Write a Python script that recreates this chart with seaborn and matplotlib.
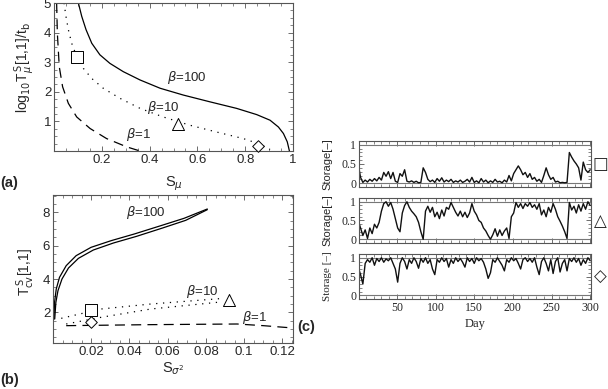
"""Storage sensitivity figure: T^S vs S for three beta values, plus storage traces."""

import matplotlib
matplotlib.use("Agg")
import matplotlib.pyplot as plt
import seaborn as sns
from matplotlib.ticker import AutoMinorLocator, MultipleLocator

# ---- panel (a): log10 T^S_mu vs S_mu ----
A_B100_X = [0.102, 0.116, 0.134, 0.158, 0.192, 0.234, 0.290, 0.360, 0.444, 0.541,
            0.653, 0.764, 0.848, 0.904, 0.939, 0.960, 0.976, 0.985]
A_B100_Y = [5.00, 4.55, 4.10, 3.64, 3.25, 2.96, 2.68, 2.40, 2.12, 1.89,
            1.66, 1.44, 1.23, 1.04, 0.81, 0.59, 0.31, 0.00]
A_B10_X = [0.042, 0.050, 0.060, 0.074, 0.095, 0.123, 0.158, 0.206, 0.276, 0.360,
           0.457, 0.569, 0.681, 0.792, 0.862, 0.904]
A_B10_Y = [5.00, 4.55, 4.10, 3.64, 3.19, 2.79, 2.45, 2.12, 1.78, 1.44,
           1.15, 0.87, 0.64, 0.42, 0.23, 0.05]
A_B1_X = [0.011, 0.014, 0.022, 0.036, 0.060, 0.095, 0.151, 0.220, 0.304, 0.360]
A_B1_Y = [5.00, 3.98, 2.85, 2.17, 1.61, 1.15, 0.76, 0.42, 0.14, 0.00]
A_MARK_X = [0.098, 0.520, 0.855]
A_MARK_Y = [3.16, 0.90, 0.17]

# ---- panel (b): T^S_cv vs S_sigma2 ----
B_B100_UP_X = [0.0005, 0.0008, 0.0017, 0.0034, 0.0069, 0.0121, 0.0199, 0.0304,
               0.0425, 0.0564, 0.0685, 0.0807]
B_B100_UP_Y = [1.60, 2.60, 3.40, 4.10, 4.80, 5.40, 5.90, 6.30, 6.70, 7.20, 7.64, 8.20]
B_B100_LO_X = [0.0009, 0.0015, 0.0026, 0.0047, 0.0081, 0.0133, 0.0211, 0.0316,
               0.0437, 0.0573, 0.0694, 0.0807]
B_B100_LO_Y = [1.60, 2.60, 3.30, 4.00, 4.66, 5.24, 5.74, 6.16, 6.56, 7.06, 7.52, 8.16]
B_B10_UP_X = [0.0043, 0.0251, 0.0512, 0.0894]
B_B10_UP_Y = [1.64, 2.20, 2.50, 2.84]
B_B10_LO_X = [0.0069, 0.0251, 0.0512, 0.0859]
B_B10_LO_Y = [1.30, 1.70, 2.20, 2.60]
B_B1_X = [0.0069, 0.0500, 0.0963, 0.1100, 0.1255]
B_B1_Y = [1.20, 1.26, 1.30, 1.20, 1.06]
B_MARK_X = [0.0199, 0.0920, 0.0199]
B_MARK_Y = [2.16, 2.76, 1.40]

# ---- panel (c): storage traces, sampled every 3 days ----
DAYS = list(range(0, 301, 3))
STORE_SQUARE = [
    0.50, 0.15, 0.02, 0.08, 0.03, 0.10, 0.05, 0.12, 0.06, 0.15,
    0.08, 0.28, 0.18, 0.30, 0.12, 0.28, 0.05, 0.02, 0.25, 0.18,
    0.35, 0.05, 0.03, 0.06, 0.02, 0.05, 0.01, 0.02, 0.40, 0.28,
    0.10, 0.04, 0.08, 0.02, 0.12, 0.05, 0.14, 0.03, 0.08, 0.04,
    0.10, 0.02, 0.06, 0.03, 0.08, 0.02, 0.05, 0.10, 0.03, 0.15,
    0.02, 0.06, 0.01, 0.12, 0.03, 0.08, 0.01, 0.06, 0.02, 0.10,
    0.03, 0.05, 0.01, 0.08, 0.03, 0.20, 0.06, 0.25, 0.35, 0.45,
    0.35, 0.22, 0.28, 0.15, 0.25, 0.10, 0.15, 0.05, 0.10, 0.02,
    0.20, 0.40, 0.22, 0.10, 0.15, 0.03, 0.05, 0.01, 0.02, 0.01,
    0.02, 0.80, 0.68, 0.58, 0.50, 0.40, 0.08, 0.55, 0.35, 0.28,
    0.35,
]
STORE_TRIANGLE = [
    0.50, 0.30, 0.10, 0.25, 0.02, 0.30, 0.15, 0.40, 0.30, 0.45,
    0.75, 0.95, 1.00, 0.88, 0.98, 0.80, 0.55, 0.30, 0.20, 0.70,
    0.90, 1.00, 0.85, 0.75, 0.68, 0.60, 0.45, 0.20, 0.00, 0.75,
    0.88, 0.72, 0.85, 0.60, 0.72, 0.55, 0.78, 0.62, 0.85, 0.80,
    0.98, 0.85, 0.72, 0.62, 0.75, 0.60, 0.72, 0.58, 0.70, 0.95,
    0.75, 0.65, 0.50, 0.45, 0.30, 0.22, 0.10, 0.00, 0.12, 0.28,
    0.08, 0.25, 0.10, 0.22, 0.30, 0.02, 0.60, 0.70, 0.98, 0.85,
    0.95, 0.82, 0.95, 0.88, 0.98, 0.85, 0.92, 0.80, 0.95, 0.65,
    0.78, 0.60, 0.85, 0.72, 0.95, 0.80, 0.60, 0.48, 0.35, 0.20,
    0.02, 0.98, 0.78, 0.88, 0.70, 0.92, 0.75, 0.95, 0.80, 1.00,
    0.90,
]
STORE_DIAMOND = [
    0.75, 0.55, 0.30, 0.85, 0.95, 0.88, 1.00, 0.80, 0.98, 0.90,
    1.00, 0.88, 0.97, 0.92, 1.00, 0.85, 0.70, 0.35, 0.85, 1.00,
    0.90, 0.70, 0.95, 0.85, 1.00, 0.90, 0.72, 0.98, 0.88, 1.00,
    0.85, 0.95, 0.70, 0.55, 0.95, 0.88, 1.00, 0.90, 0.98, 0.75,
    0.95, 0.85, 1.00, 0.90, 0.98, 0.88, 0.75, 1.00, 0.90, 0.98,
    0.85, 1.00, 0.92, 0.98, 0.88, 0.70, 0.45, 0.60, 0.95, 0.88,
    1.00, 0.90, 0.80, 0.65, 0.95, 0.88, 1.00, 0.92, 0.98, 0.85,
    0.70, 0.95, 1.00, 0.90, 0.98, 0.88, 1.00, 0.75, 0.55, 0.90,
    1.00, 0.85, 0.65, 0.95, 0.58, 0.90, 1.00, 0.62, 0.85, 0.95,
    0.65, 0.98, 0.90, 1.00, 0.88, 0.98, 0.80, 0.95, 0.85, 1.00,
    0.92,
]

FRAME = "#555555"
DOTTED = (0, (1, 4.5))
DASHED = (0, (8, 5))


def style_frame(ax, labelsize=9.5):
    for side in ax.spines.values():
        side.set_color(FRAME)
        side.set_linewidth(0.8)
    ax.tick_params(which="both", direction="in", top=True, right=True, color=FRAME)
    ax.tick_params(which="major", length=3.5, width=0.6, labelsize=labelsize, pad=2)
    ax.tick_params(which="minor", length=2, width=0.5)


def line(ax, x, y, ls="-", lw=0.9, color="black"):
    sns.lineplot(x=x, y=y, ax=ax, color=color, linestyle=ls, linewidth=lw,
                 estimator=None, sort=False, legend=False)


def markers(ax, xs, ys, kinds, sizes):
    for x, y, m, s in zip(xs, ys, kinds, sizes):
        ax.scatter([x], [y], marker=m, s=s, facecolors="white", edgecolors="black",
                   linewidths=0.7, zorder=5, clip_on=False)


def main():
    sns.set_theme(style="ticks")
    plt.rcParams["font.family"] = ["Liberation Sans", "DejaVu Sans"]
    plt.rcParams["mathtext.fontset"] = "dejavusans"

    fig = plt.figure(figsize=(6.08, 3.89), dpi=100)
    beta_kw = dict(fontsize=9.5, ha="center", va="center")

    # (a)
    ax_a = fig.add_axes([54 / 608, 1 - 151 / 389, 239 / 608, 148 / 389])
    line(ax_a, A_B100_X, A_B100_Y)
    line(ax_a, A_B10_X, A_B10_Y, ls=DOTTED)
    line(ax_a, A_B1_X, A_B1_Y, ls=DASHED)
    markers(ax_a, A_MARK_X, A_MARK_Y, ["s", "^", "D"], [75, 75, 35])
    ax_a.set_xlim(0, 1)
    ax_a.set_ylim(0, 5)
    ax_a.set_xticks([0.2, 0.4, 0.6, 0.8, 1.0], ["0.2", "0.4", "0.6", "0.8", "1"])
    ax_a.set_yticks([1, 2, 3, 4, 5], ["1", "2", "3", "4", "5"])
    ax_a.xaxis.set_minor_locator(MultipleLocator(0.05))
    ax_a.yaxis.set_minor_locator(MultipleLocator(0.25))
    style_frame(ax_a)
    ax_a.set_xlabel(r"S$_\mu$", fontsize=10.5)
    ax_a.xaxis.set_label_coords(0.5, -0.155)
    ax_a.set_ylabel(r"log$_{10}$T$^{\,\mathrm{S}}_{\mu}$[1,1]/t$_{\mathrm{b}}$", fontsize=10)
    ax_a.yaxis.set_label_coords(-0.07, 0.56)
    ax_a.text(0.555, 2.49, r"$\beta$=100", **beta_kw)
    ax_a.text(0.457, 1.47, r"$\beta$=10", **beta_kw)
    ax_a.text(0.353, 0.57, r"$\beta$=1", **beta_kw)

    # (b)
    ax_b = fig.add_axes([53 / 608, 1 - 343 / 389, 240 / 608, 148 / 389])
    line(ax_b, B_B100_UP_X, B_B100_UP_Y)
    line(ax_b, B_B100_LO_X, B_B100_LO_Y)
    line(ax_b, B_B10_UP_X, B_B10_UP_Y, ls=DOTTED)
    line(ax_b, B_B10_LO_X, B_B10_LO_Y, ls=DOTTED)
    line(ax_b, B_B1_X, B_B1_Y, ls=DASHED)
    markers(ax_b, B_MARK_X, B_MARK_Y, ["s", "^", "D"], [85, 75, 35])
    ax_b.set_xlim(0, 0.1255)
    ax_b.set_ylim(0.16, 9.04)
    ax_b.set_xticks([0.02, 0.04, 0.06, 0.08, 0.10, 0.12],
                    ["0.02", "0.04", "0.06", "0.08", "0.1", "0.12"])
    ax_b.set_yticks([2, 4, 6, 8], ["2", "4", "6", "8"])
    ax_b.xaxis.set_minor_locator(MultipleLocator(0.005))
    ax_b.yaxis.set_minor_locator(MultipleLocator(0.5))
    style_frame(ax_b)
    ax_b.set_xlabel(r"S$_{\sigma^2}$", fontsize=10.5)
    ax_b.xaxis.set_label_coords(0.5, -0.115)
    ax_b.set_ylabel(r"T$^{\,\mathrm{S}}_{\mathrm{cv}}$[1,1]", fontsize=10)
    ax_b.yaxis.set_label_coords(-0.065, 0.48)
    ax_b.text(0.0486, 8.0, r"$\beta$=100", **beta_kw)
    ax_b.text(0.078, 3.26, r"$\beta$=10", **beta_kw)
    ax_b.text(0.1054, 1.72, r"$\beta$=1", **beta_kw)

    # (c)
    boxes = [(141, 187), (198, 243), (254, 299)]
    series = [STORE_SQUARE, STORE_TRIANGLE, STORE_DIAMOND]
    symbols = ["\u25a1", "\u25b3", "\u25c7"]
    for i, ((top, bot), vals, sym) in enumerate(zip(boxes, series, symbols)):
        ax = fig.add_axes([359 / 608, 1 - bot / 389, 232 / 608, (bot - top) / 389])
        ax.axhline(1, color="#777777", lw=0.8)
        ax.axhline(0, color="#777777", lw=0.8)
        line(ax, DAYS, vals, lw=1.0, color="#111111")
        ax.set_xlim(1, 301)
        ax.set_ylim(-0.1, 1.1)
        ax.set_yticks([0, 0.5, 1], ["0", "0.5", "1"])
        ax.set_xticks([50, 100, 150, 200, 250, 300])
        ax.xaxis.set_minor_locator(MultipleLocator(10))
        ax.yaxis.set_minor_locator(AutoMinorLocator(5))
        style_frame(ax, labelsize=8.5)
        for lab in ax.get_yticklabels() + ax.get_xticklabels():
            lab.set_family(["Liberation Serif"])
        if i < 2:
            ax.set_xticklabels([])
            ax.set_ylabel("Storage[\u2013]", fontsize=8)
        else:
            ax.set_ylabel("Storage [\u2013]", fontsize=8, family=["Liberation Serif"])
            ax.set_xlabel("Day", fontsize=9, family=["Liberation Serif"])
            ax.xaxis.set_label_coords(0.5, -0.42)
        ax.yaxis.set_label_coords(-0.115, 0.5)
        fig.text(600 / 608, 1 - (top + bot) / 2 / 389, sym, fontsize=12,
                 ha="center", va="center", family=["DejaVu Sans"])

    fig.text(0.0, 1 - 183 / 389, "(a)", fontsize=10.5, fontweight="bold", va="center")
    fig.text(0.0, 1 - 380 / 389, "(b)", fontsize=10.5, fontweight="bold", va="center")
    fig.text(297 / 608, 1 - 327 / 389, "(c)", fontsize=10.5, fontweight="bold", va="center")

    fig.savefig("out.png", dpi=100)
    plt.close(fig)


if __name__ == "__main__":
    main()
